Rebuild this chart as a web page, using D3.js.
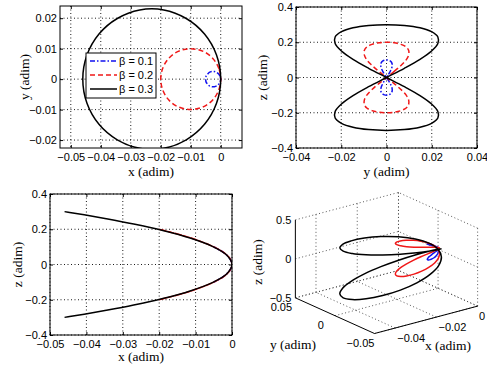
<!DOCTYPE html>
<html><head><meta charset="utf-8">
<script src="https://cdn.jsdelivr.net/npm/d3@7"></script>
<style>body{margin:0;background:#fff}svg{display:block}</style>
</head><body>
<svg id="c" width="487" height="365"></svg>
<script>
// ---------- data ----------
const seriesNames = ["β = 0.1", "β = 0.2", "β = 0.3"];

// trajectory samples for beta = 0.1
const xB1 = [0,-0.0002,-0.0006,-0.0013,-0.0021,-0.0029,-0.0038,-0.0044,-0.0049,-0.005,-0.0049,-0.0044,-0.0038,-0.0029,-0.0021,-0.0013,-0.0006,-0.0002,0,-0.0002,-0.0006,-0.0013,-0.0021,-0.0029,-0.0038,-0.0044,-0.0049,-0.005,-0.0049,-0.0044,-0.0038,-0.0029,-0.0021,-0.0013,-0.0006,-0.0002];
const yB1 = [0,0.0009,0.0016,0.0022,0.0025,0.0025,0.0022,0.0016,0.0009,0,-0.0009,-0.0016,-0.0022,-0.0025,-0.0025,-0.0022,-0.0016,-0.0009,0,0.0009,0.0016,0.0022,0.0025,0.0025,0.0022,0.0016,0.0009,0,-0.0009,-0.0016,-0.0022,-0.0025,-0.0025,-0.0022,-0.0016,-0.0009];
const zB1 = [0,0.0174,0.0342,0.05,0.0643,0.0766,0.0866,0.094,0.0985,0.1,0.0985,0.094,0.0866,0.0766,0.0643,0.05,0.0342,0.0174,0,-0.0174,-0.0342,-0.05,-0.0643,-0.0766,-0.0866,-0.094,-0.0985,-0.1,-0.0985,-0.094,-0.0866,-0.0766,-0.0643,-0.05,-0.0342,-0.0174];

// trajectory samples for beta = 0.2
const xB2 = [0,-0.0006,-0.0023,-0.005,-0.0083,-0.0117,-0.015,-0.0177,-0.0194,-0.02,-0.0194,-0.0177,-0.015,-0.0117,-0.0083,-0.005,-0.0023,-0.0006,0,-0.0006,-0.0023,-0.005,-0.0083,-0.0117,-0.015,-0.0177,-0.0194,-0.02,-0.0194,-0.0177,-0.015,-0.0117,-0.0083,-0.005,-0.0023,-0.0006];
const yB2 = [0,0.0034,0.0064,0.0087,0.0098,0.0098,0.0087,0.0064,0.0034,0,-0.0034,-0.0064,-0.0087,-0.0098,-0.0098,-0.0087,-0.0064,-0.0034,0,0.0034,0.0064,0.0087,0.0098,0.0098,0.0087,0.0064,0.0034,0,-0.0034,-0.0064,-0.0087,-0.0098,-0.0098,-0.0087,-0.0064,-0.0034];
const zB2 = [0,0.0347,0.0684,0.1,0.1286,0.1532,0.1732,0.1879,0.197,0.2,0.197,0.1879,0.1732,0.1532,0.1286,0.1,0.0684,0.0347,0,-0.0347,-0.0684,-0.1,-0.1286,-0.1532,-0.1732,-0.1879,-0.197,-0.2,-0.197,-0.1879,-0.1732,-0.1532,-0.1286,-0.1,-0.0684,-0.0347];

// trajectory samples for beta = 0.3
const xB3 = [0,-0.0014,-0.0054,-0.0115,-0.019,-0.027,-0.0345,-0.0406,-0.0446,-0.046,-0.0446,-0.0406,-0.0345,-0.027,-0.019,-0.0115,-0.0054,-0.0014,0,-0.0014,-0.0054,-0.0115,-0.019,-0.027,-0.0345,-0.0406,-0.0446,-0.046,-0.0446,-0.0406,-0.0345,-0.027,-0.019,-0.0115,-0.0054,-0.0014];
const yB3 = [0,0.0079,0.0148,0.0199,0.0227,0.0227,0.0199,0.0148,0.0079,0,-0.0079,-0.0148,-0.0199,-0.0227,-0.0227,-0.0199,-0.0148,-0.0079,0,0.0079,0.0148,0.0199,0.0227,0.0227,0.0199,0.0148,0.0079,0,-0.0079,-0.0148,-0.0199,-0.0227,-0.0227,-0.0199,-0.0148,-0.0079];
const zB3 = [0,0.0521,0.1026,0.15,0.1928,0.2298,0.2598,0.2819,0.2954,0.3,0.2954,0.2819,0.2598,0.2298,0.1928,0.15,0.1026,0.0521,0,-0.0521,-0.1026,-0.15,-0.1928,-0.2298,-0.2598,-0.2819,-0.2954,-0.3,-0.2954,-0.2819,-0.2598,-0.2298,-0.1928,-0.15,-0.1026,-0.0521];

// tick values and labels
const p1XTicks = [-0.05,-0.04,-0.03,-0.02,-0.01,0];
const p1XLabels = ["−0.05","−0.04","−0.03","−0.02","−0.01","0"];
const p1YTicks = [-0.02,-0.01,0,0.01,0.02];
const p1YLabels = ["−0.02","−0.01","0","0.01","0.02"];
const p2XTicks = [-0.04,-0.02,0,0.02,0.04];
const p2XLabels = ["−0.04","−0.02","0","0.02","0.04"];
const p2YTicks = [-0.4,-0.2,0,0.2,0.4];
const p2YLabels = ["−0.4","−0.2","0","0.2","0.4"];
const p3XTicks = [-0.05,-0.04,-0.03,-0.02,-0.01,0];
const p3XLabels = ["−0.05","−0.04","−0.03","−0.02","−0.01","0"];
const p3YTicks = [-0.4,-0.2,0,0.2,0.4];
const p3YLabels = ["−0.4","−0.2","0","0.2","0.4"];
const p4XTicks = [-0.04,-0.02,0];
const p4XLabels = ["−0.04","−0.02","0"];
const p4YTicks = [-0.05,0,0.05];
const p4YLabels = ["−0.05","0","0.05"];
const p4ZTicks = [-0.5,0,0.5];
const p4ZLabels = ["−0.5","0","0.5"];

// ---------- drawing ----------
const series = [
  {name: seriesNames[0], x: xB1, y: yB1, z: zB1, color: "#1010f0", dash: "5,2,1.5,2"},
  {name: seriesNames[1], x: xB2, y: yB2, z: zB2, color: "#f01818", dash: "5,3"},
  {name: seriesNames[2], x: xB3, y: yB3, z: zB3, color: "#000000", dash: null}
];
const svg = d3.select("#c");
const SANS = "'Liberation Sans', Arial, sans-serif";
const SERIF = "'Liberation Serif', 'Times New Roman', serif";
const TFS = 11, LFS = 13.5;

function panel(o) {
  const g = svg.append("g");
  const xs = d3.scaleLinear().domain(o.xd).range([o.l, o.r]);
  const ys = d3.scaleLinear().domain(o.yd).range([o.b, o.t]);
  g.append("rect").attr("x", o.l).attr("y", o.t).attr("width", o.r - o.l).attr("height", o.b - o.t).attr("fill", "#fff");
  // grid
  g.selectAll(".gx").data(o.xt).join("line")
    .attr("x1", d => xs(d)).attr("x2", d => xs(d)).attr("y1", o.t).attr("y2", o.b)
    .attr("stroke", "#000").attr("stroke-width", 0.9).attr("stroke-dasharray", "1,2.5");
  g.selectAll(".gy").data(o.yt).join("line")
    .attr("y1", d => ys(d)).attr("y2", d => ys(d)).attr("x1", o.l).attr("x2", o.r)
    .attr("stroke", "#000").attr("stroke-width", 0.9).attr("stroke-dasharray", "1,2.5");
  // curves
  const clip = "clip" + Math.round(o.l) + "_" + Math.round(o.t);
  svg.append("clipPath").attr("id", clip).append("rect")
    .attr("x", o.l).attr("y", o.t).attr("width", o.r - o.l).attr("height", o.b - o.t);
  const cg = g.append("g").attr("clip-path", `url(#${clip})`);
  series.forEach(s => {
    let pts = s[o.xk].map((v, i) => [v, s[o.yk][i]]);
    if (o.half) pts = pts.slice(0, pts.length / 2); // the x-y path repeats itself
    cg.append("path")
      .attr("d", d3.line().x(d => xs(d[0])).y(d => ys(d[1])).curve(d3.curveCatmullRomClosed)(pts))
      .attr("fill", "none").attr("stroke", s.color).attr("stroke-width", 1.5)
      .attr("stroke-dasharray", o.solid ? null : s.dash);
  });
  // axes
  const fmtX = d => o.xl[o.xt.indexOf(d)];
  const fmtY = d => o.yl[o.yt.indexOf(d)];
  g.append("g").attr("transform", `translate(0,${o.b})`)
    .call(d3.axisBottom(xs).tickValues(o.xt).tickFormat(fmtX).tickSize(-3).tickPadding(5));
  g.append("g").attr("transform", `translate(${o.l},0)`)
    .call(d3.axisLeft(ys).tickValues(o.yt).tickFormat(fmtY).tickSize(-3).tickPadding(3));
  g.append("g").attr("transform", `translate(0,${o.t})`)
    .call(d3.axisTop(xs).tickValues(o.xt).tickFormat("").tickSize(-3));
  g.append("g").attr("transform", `translate(${o.r},0)`)
    .call(d3.axisRight(ys).tickValues(o.yt).tickFormat("").tickSize(-3));
  g.selectAll(".domain").remove();
  g.selectAll(".tick line").attr("stroke", "#000");
  g.selectAll(".tick text").attr("font-family", SANS).attr("font-size", TFS).attr("fill", "#000");
  g.append("rect").attr("x", o.l).attr("y", o.t).attr("width", o.r - o.l).attr("height", o.b - o.t)
    .attr("fill", "none").attr("stroke", "#000").attr("stroke-width", 1);
  // labels
  g.append("text").attr("x", (o.l + o.r) / 2).attr("y", o.xlabY).attr("text-anchor", "middle")
    .attr("font-family", SERIF).attr("font-size", LFS).text(o.xlab);
  g.append("text").attr("transform", `translate(${o.ylabX},${(o.t + o.b) / 2}) rotate(-90)`)
    .attr("text-anchor", "middle").attr("font-family", SERIF).attr("font-size", LFS).text(o.ylab);
  return {xs, ys, g};
}

// Panel 1: x-y
const P1 = panel({l: 60, r: 242, t: 6, b: 148, xd: [-0.0536, 0.0071], yd: [-0.0226, 0.0240],
  xt: p1XTicks, xl: p1XLabels, yt: p1YTicks, yl: p1YLabels, xk: "x", yk: "y", half: true,
  xlab: "x (adim)", ylab: "y (adim)", xlabY: 176, ylabX: 29});
// legend
{
  const lg = P1.g.append("g");
  lg.append("rect").attr("x", 86).attr("y", 53).attr("width", 70).attr("height", 45)
    .attr("fill", "#fff").attr("stroke", "#000").attr("stroke-width", 1);
  series.forEach((s, i) => {
    const yy = 61 + i * 14;
    lg.append("line").attr("x1", 90).attr("x2", 117).attr("y1", yy).attr("y2", yy)
      .attr("stroke", s.color).attr("stroke-width", 1.5).attr("stroke-dasharray", s.dash);
    lg.append("text").attr("x", 119).attr("y", yy + 4).attr("font-family", SANS)
      .attr("font-size", TFS).text(s.name);
  });
}

// Panel 2: y-z
panel({l: 296, r: 477, t: 7, b: 148, xd: [-0.04, 0.04], yd: [-0.4, 0.4],
  xt: p2XTicks, xl: p2XLabels, yt: p2YTicks, yl: p2YLabels, xk: "y", yk: "z",
  xlab: "y (adim)", ylab: "z (adim)", xlabY: 176, ylabX: 267});

// Panel 3: x-z
panel({l: 50, r: 232, t: 194, b: 335, xd: [-0.05, 0], yd: [-0.4, 0.4],
  xt: p3XTicks, xl: p3XLabels, yt: p3YTicks, yl: p3YLabels, xk: "x", yk: "z",
  xlab: "x (adim)", ylab: "z (adim)", xlabY: 361, ylabX: 22});

// Panel 4: 3-D view (az -37.5, el 30)
{
  const g = svg.append("g");
  const us = d3.scaleLinear().domain([-0.05, 0]).range([-0.5, 0.5]);
  const vs = d3.scaleLinear().domain([-0.05, 0.05]).range([-0.5, 0.5]);
  const ws = d3.scaleLinear().domain([-0.5, 0.5]).range([-0.5, 0.5]);
  const ca = Math.cos(37.5 * Math.PI / 180), sa = Math.sin(37.5 * Math.PI / 180);
  const se = Math.sin(30 * Math.PI / 180), ce = Math.cos(30 * Math.PI / 180);
  const X0 = 386.5, Y0 = 263, KX = 130, KY = 90;
  const P = (x, y, z) => {
    const u = us(x), v = vs(y), w = ws(z);
    return [X0 + KX * (u * ca - v * sa), Y0 - KY * ((u * sa + v * ca) * se + w * ce)];
  };
  const xmin = -0.05, xmax = 0, ymin = -0.05, ymax = 0.05, zmin = -0.5, zmax = 0.5;
  const seg = (a, b, dashed) => {
    const p = P(...a), q = P(...b);
    g.append("line").attr("x1", p[0]).attr("y1", p[1]).attr("x2", q[0]).attr("y2", q[1])
      .attr("stroke", dashed ? "#444" : "#000").attr("stroke-width", dashed ? 0.9 : 1)
      .attr("stroke-dasharray", dashed ? "1,2.5" : null);
  };
  // grids on back walls and floor
  p4XTicks.forEach(x => { seg([x, ymax, zmin], [x, ymax, zmax], true); seg([x, ymin, zmin], [x, ymax, zmin], true); });
  p4YTicks.forEach(y => { seg([xmax, y, zmin], [xmax, y, zmax], true); seg([xmin, y, zmin], [xmax, y, zmin], true); });
  p4ZTicks.forEach(z => { seg([xmin, ymax, z], [xmax, ymax, z], true); seg([xmax, ymin, z], [xmax, ymax, z], true); });
  // axis lines
  seg([xmin, ymax, zmin], [xmin, ymax, zmax], false);
  seg([xmin, ymin, zmin], [xmin, ymax, zmin], false);
  seg([xmin, ymin, zmin], [xmax, ymin, zmin], false);
  // curves
  series.forEach(s => {
    const pts = s.x.map((v, i) => P(v, s.y[i], s.z[i]));
    g.append("path").attr("d", d3.line().curve(d3.curveCatmullRomClosed)(pts))
      .attr("fill", "none").attr("stroke", s.color).attr("stroke-width", 1.5);
  });
  // tick labels
  const txt = (x, y, t, anchor, fs, fam) => g.append("text").attr("x", x).attr("y", y)
    .attr("text-anchor", anchor).attr("font-family", fam || SANS).attr("font-size", fs || TFS).text(t);
  p4ZTicks.forEach((z, i) => { const p = P(xmin, ymax, z); txt(p[0] - 4, p[1] + 4, p4ZLabels[i], "end"); });
  p4YTicks.forEach((y, i) => { const p = P(xmin, y, zmin); txt(p[0] - 14, p[1] + 13, p4YLabels[i], "middle"); });
  p4XTicks.forEach((x, i) => { const p = P(x, ymin, zmin); txt(Math.min(p[0] + 16, 482), p[1] + 14, p4XLabels[i], "middle"); });
  txt(293, 349, "y (adim)", "middle", LFS, SERIF);
  txt(448, 350, "x (adim)", "middle", LFS, SERIF);
  g.append("text").attr("transform", "translate(262,262) rotate(-90)").attr("text-anchor", "middle")
    .attr("font-family", SERIF).attr("font-size", LFS).text("z (adim)");
}
</script>
</body></html>
